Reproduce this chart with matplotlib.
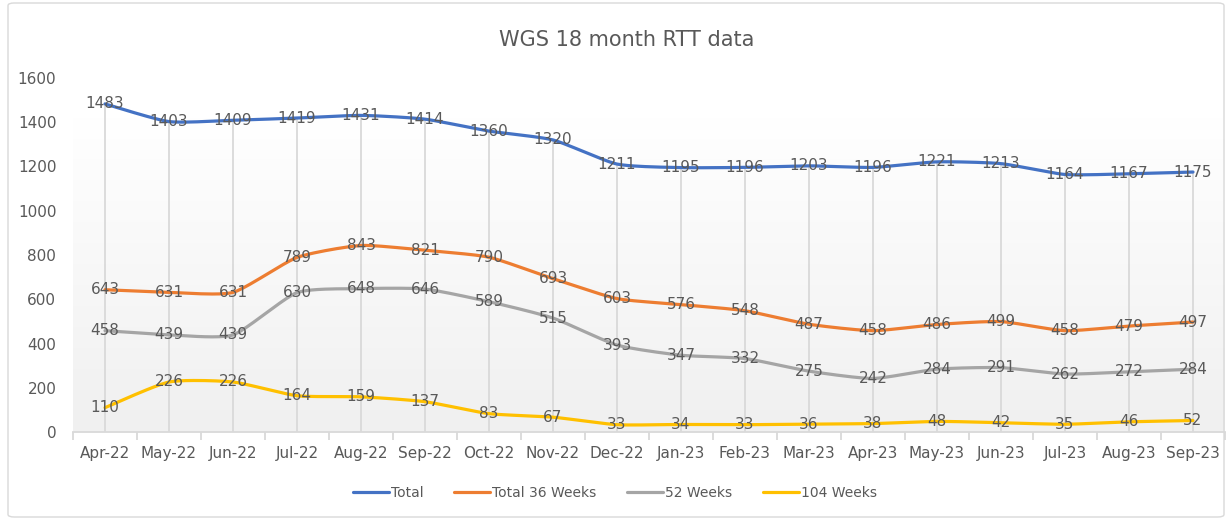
import numpy as np
import matplotlib.pyplot as plt
from matplotlib.patches import FancyBboxPatch
from matplotlib.colors import LinearSegmentedColormap

meses = ['Apr-22', 'May-22', 'Jun-22', 'Jul-22', 'Aug-22', 'Sep-22', 'Oct-22', 'Nov-22', 'Dec-22',
         'Jan-23', 'Feb-23', 'Mar-23', 'Apr-23', 'May-23', 'Jun-23', 'Jul-23', 'Aug-23', 'Sep-23']
total = [1483, 1403, 1409, 1419, 1431, 1414, 1360, 1320, 1211, 1195, 1196, 1203, 1196, 1221, 1213, 1164, 1167, 1175]
total_36 = [643, 631, 631, 789, 843, 821, 790, 693, 603, 576, 548, 487, 458, 486, 499, 458, 479, 497]
semanas_52 = [458, 439, 439, 630, 648, 646, 589, 515, 393, 347, 332, 275, 242, 284, 291, 262, 272, 284]
semanas_104 = [110, 226, 226, 164, 159, 137, 83, 67, 33, 34, 33, 36, 38, 48, 42, 35, 46, 52]

series = [('Total', total, '#4472C4'),
          ('Total 36 Weeks', total_36, '#ED7D31'),
          ('52 Weeks', semanas_52, '#A5A5A5'),
          ('104 Weeks', semanas_104, '#FFC000')]
cinza = '#595959'


# curva levemente suavizada (Hermite / Catmull-Rom com pouca tensão)
def suavizar(x, y, k=0.3, n=20):
    x = np.asarray(x, float)
    y = np.asarray(y, float)
    px = np.concatenate([[x[0]], x, [x[-1]]])
    py = np.concatenate([[y[0]], y, [y[-1]]])
    xs, ys = [], []
    t = np.linspace(0, 1, n, endpoint=False)
    h00 = 2 * t**3 - 3 * t**2 + 1
    h10 = t**3 - 2 * t**2 + t
    h01 = -2 * t**3 + 3 * t**2
    h11 = t**3 - t**2
    for i in range(1, len(px) - 2):
        m1y, m2y = k * (py[i + 1] - py[i - 1]), k * (py[i + 2] - py[i])
        m1x, m2x = k * (px[i + 1] - px[i - 1]), k * (px[i + 2] - px[i])
        xs.append(h00 * px[i] + h10 * m1x + h01 * px[i + 1] + h11 * m2x)
        ys.append(h00 * py[i] + h10 * m1y + h01 * py[i + 1] + h11 * m2y)
    xs.append([x[-1]])
    ys.append([y[-1]])
    return np.concatenate(xs), np.concatenate(ys)


fig = plt.figure(figsize=(12.29, 5.19), dpi=100)
ax = fig.add_axes([73 / 1229, 1 - 432 / 519, (1225 - 73) / 1229, (432 - 78) / 519])
x = np.arange(len(meses))

# fundo em degradê
grad = np.linspace(0, 1, 256).reshape(-1, 1)
cmap = LinearSegmentedColormap.from_list('g', ['#f0f0f0', '#ffffff'])
ax.imshow(grad, extent=[-0.5, len(meses) - 0.5, 0, 1420], aspect='auto', cmap=cmap,
          origin='lower', zorder=0, clip_on=True)

# linhas verticais até a série Total
ax.vlines(x, 0, total, color='#d9d9d9', lw=1.3, zorder=1)

for nome, vals, cor in series:
    sx, sy = suavizar(x, vals)
    ax.plot(sx, sy, color=cor, lw=2.3, label=nome, zorder=3, solid_capstyle='round')
    for xi, v in zip(x, vals):
        ax.text(xi, v, str(v), ha='center', va='center', fontsize=11, color=cinza, zorder=4)

ax.set_xlim(-0.5, len(meses) - 0.5)
ax.set_ylim(0, 1600)
ax.set_yticks(range(0, 1601, 200))
ax.set_xticks(x)
ax.set_xticklabels(meses)
ax.set_xticks(np.arange(-0.5, len(meses)), minor=True)
ax.tick_params(axis='x', which='major', length=0, pad=10, labelsize=11, labelcolor=cinza)
ax.tick_params(axis='x', which='minor', length=6, color='#d9d9d9', width=1.3)
ax.tick_params(axis='y', length=0, labelsize=11, labelcolor=cinza, pad=12)
for lado in ['top', 'right', 'left']:
    ax.spines[lado].set_visible(False)
ax.spines['bottom'].set_color('#d9d9d9')
ax.spines['bottom'].set_linewidth(1.3)
ax.patch.set_alpha(0)

fig.text(627 / 1229, 1 - 40 / 519, 'WGS 18 month RTT data', ha='center', va='center', fontsize=15, color=cinza)
fig.legend(loc='center', bbox_to_anchor=(615 / 1229, 1 - 493 / 519), ncol=4, frameon=False,
           fontsize=10, labelcolor=cinza, handlelength=2.6, columnspacing=2.2, handletextpad=0.15)

fig.patches.append(FancyBboxPatch((8 / 1229, 2 / 519), 1216 / 1229, 514 / 519, boxstyle='round,pad=0,rounding_size=0.005',
                                  transform=fig.transFigure, fill=False, ec='#d9d9d9', lw=1))

fig.savefig('out.png', dpi=100)
